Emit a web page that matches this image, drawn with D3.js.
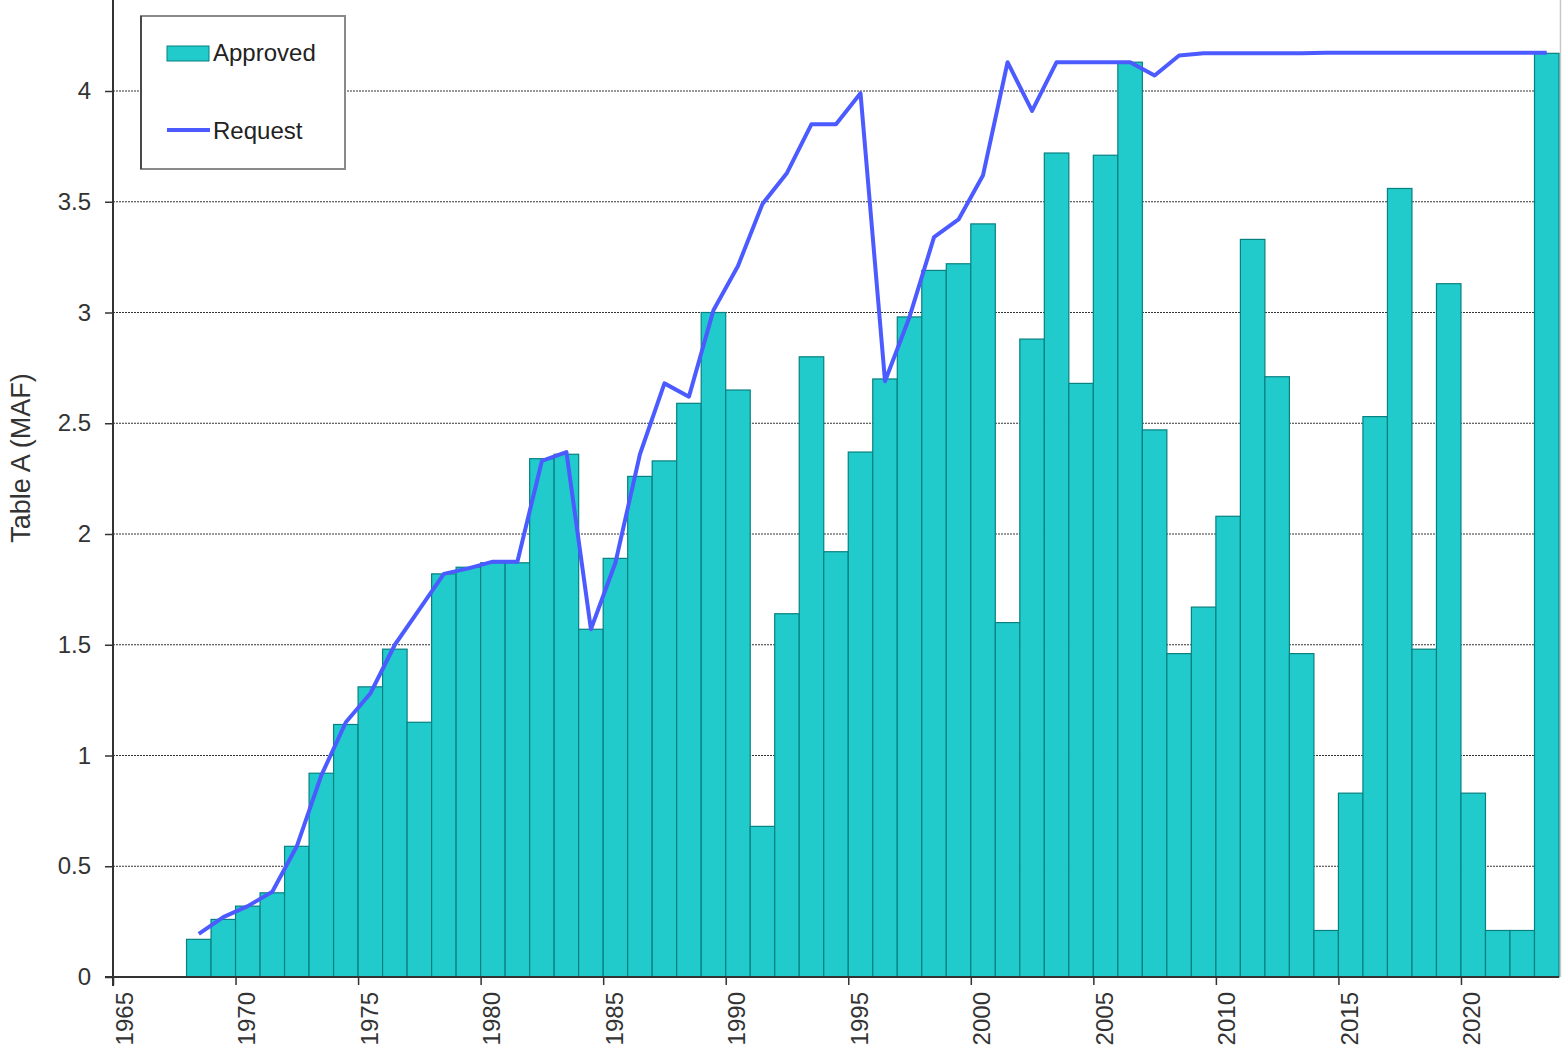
<!DOCTYPE html>
<html>
<head>
<meta charset="utf-8">
<script src="https://cdn.jsdelivr.net/npm/d3@7"></script>
<style>
  html, body { margin: 0; padding: 0; background: #fff; }
  svg { display: block; font-family: "Liberation Sans", Arial, sans-serif; }
</style>
</head>
<body>
<svg id="chart" width="1566" height="1051"></svg>
<script>
const years = d3.range(1968, 2024);
const approved = [
  0.17, 0.26, 0.32, 0.38, 0.59, 0.92, 1.14, 1.31, 1.48, 1.15,
  1.82, 1.85, 1.87, 1.87, 2.34, 2.36, 1.57, 1.89, 2.26, 2.33,
  2.59, 3.00, 2.65, 0.68, 1.64, 2.80, 1.92, 2.37, 2.70, 2.98,
  3.19, 3.22, 3.40, 1.60, 2.88, 3.72, 2.68, 3.71, 4.13, 2.47,
  1.46, 1.67, 2.08, 3.33, 2.71, 1.46, 0.21, 0.83, 2.53, 3.56,
  1.48, 3.13, 0.83, 0.21, 0.21, 4.17
];
const request = [
  0.195, 0.27, 0.32, 0.385, 0.59, 0.91, 1.15, 1.28, 1.50, 1.66,
  1.82, 1.845, 1.875, 1.875, 2.33, 2.37, 1.57, 1.87, 2.36, 2.68,
  2.62, 3.01, 3.21, 3.49, 3.63, 3.85, 3.85, 3.99, 2.69, 2.98,
  3.34, 3.42, 3.62, 4.13, 3.91, 4.13, 4.13, 4.13, 4.13, 4.07,
  4.16, 4.17, 4.17, 4.17, 4.17, 4.17, 4.173, 4.173, 4.173, 4.173,
  4.173, 4.173, 4.173, 4.173, 4.173, 4.173
];
const xTicks = d3.range(1965, 2021, 5);
const yTicks = d3.range(0, 4.01, 0.5);
const yLabel = "Table A (MAF)";
const legendLabels = ["Approved", "Request"];

(function () {
const svg = d3.select("#chart");
const pLeft = 113, pRight = 1559, pBottom = 977, pTop = 0;

const x = d3.scaleLinear().domain([1965, 2024]).range([pLeft, pRight]);
const y = d3.scaleLinear().domain([0, 4]).range([pBottom, 91]);

const barFill = "#22cbcb";
const barStroke = "#078080";
const lineColor = "#4b5bff";

// gridlines
svg.append("g").selectAll("line")
  .data(yTicks.filter(d => d > 0))
  .join("line")
  .attr("x1", pLeft).attr("x2", pRight)
  .attr("y1", d => y(d)).attr("y2", d => y(d))
  .attr("stroke", "#333").attr("stroke-width", 1)
  .attr("stroke-dasharray", "2,1");

// right border
svg.append("line")
  .attr("x1", pRight + 1.5).attr("x2", pRight + 1.5)
  .attr("y1", pTop).attr("y2", pBottom)
  .attr("stroke", "#c8c8c8").attr("stroke-width", 1.5);

// bars
svg.append("g").selectAll("rect")
  .data(years.map((yr, i) => ({ yr, v: approved[i] })))
  .join("rect")
  .attr("x", d => x(d.yr))
  .attr("width", d => x(d.yr + 1) - x(d.yr))
  .attr("y", d => y(d.v))
  .attr("height", d => pBottom - y(d.v))
  .attr("fill", barFill)
  .attr("stroke", barStroke)
  .attr("stroke-width", 1.2);

// request line
const line = d3.line()
  .x((d, i) => x(years[i] + 0.5))
  .y(d => y(d));
svg.append("path")
  .datum(request)
  .attr("d", line)
  .attr("fill", "none")
  .attr("stroke", lineColor)
  .attr("stroke-width", 4)
  .attr("stroke-linejoin", "round");

// Y axis
const yAxis = svg.append("g").attr("transform", `translate(${pLeft},0)`)
  .call(d3.axisLeft(y).tickValues(yTicks).tickSize(8).tickPadding(14)
    .tickFormat(d => d3.format("~g")(d)));
yAxis.select(".domain").remove();
yAxis.selectAll(".tick line").attr("stroke", "#333").attr("stroke-width", 1.5);
yAxis.selectAll(".tick text")
  .attr("font-size", 24).attr("fill", "#333")
  .attr("font-family", "Liberation Sans, Arial, sans-serif");
svg.append("line")
  .attr("x1", pLeft).attr("x2", pLeft)
  .attr("y1", pTop).attr("y2", pBottom + 9)
  .attr("stroke", "#333").attr("stroke-width", 2);

// X axis
const xAxis = svg.append("g").attr("transform", `translate(0,${pBottom})`)
  .call(d3.axisBottom(x).tickValues(xTicks).tickSize(8).tickFormat(d3.format("d")));
xAxis.select(".domain").remove();
xAxis.selectAll(".tick line").attr("stroke", "#333").attr("stroke-width", 1.5);
xAxis.selectAll(".tick text")
  .attr("font-size", 24).attr("fill", "#333")
  .attr("font-family", "Liberation Sans, Arial, sans-serif")
  .attr("text-anchor", "end")
  .attr("transform", "translate(0,15) rotate(-90)")
  .attr("x", 0).attr("y", 0).attr("dy", "19");
svg.append("line")
  .attr("x1", pLeft - 8).attr("x2", pRight)
  .attr("y1", pBottom).attr("y2", pBottom)
  .attr("stroke", "#333").attr("stroke-width", 2);

// Y label
svg.append("text")
  .attr("transform", "translate(30,458) rotate(-90)")
  .attr("text-anchor", "middle")
  .attr("font-size", 27).attr("fill", "#333")
  .text(yLabel);

// legend
const lg = svg.append("g");
lg.append("rect")
  .attr("x", 141).attr("y", 16).attr("width", 204).attr("height", 153)
  .attr("fill", "#fff").attr("stroke", "#8a8a8a").attr("stroke-width", 2);
lg.append("line").attr("x1", 141).attr("x2", 141).attr("y1", 16).attr("y2", 169)
  .attr("stroke", "#333").attr("stroke-width", 1.5);
lg.append("rect")
  .attr("x", 167).attr("y", 46).attr("width", 42).attr("height", 15)
  .attr("fill", barFill).attr("stroke", barStroke).attr("stroke-width", 1);
lg.append("text").attr("x", 213).attr("y", 61)
  .attr("font-size", 24).attr("fill", "#222").text(legendLabels[0]);
lg.append("line").attr("x1", 167).attr("x2", 210).attr("y1", 130).attr("y2", 130)
  .attr("stroke", lineColor).attr("stroke-width", 4);
lg.append("text").attr("x", 213).attr("y", 139)
  .attr("font-size", 24).attr("fill", "#222").text(legendLabels[1]);
})();
</script>
</body>
</html>
